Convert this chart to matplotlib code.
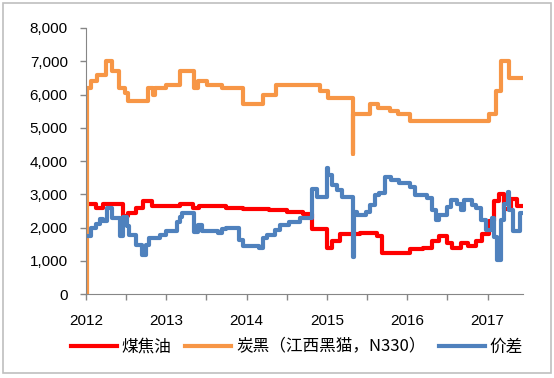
import matplotlib
matplotlib.use("Agg")
import matplotlib.pyplot as plt
from matplotlib.ticker import FuncFormatter, MultipleLocator
from matplotlib.patches import Rectangle

plt.rcParams['font.family'] = ['Noto Sans CJK SC', 'DejaVu Sans']

# 炭黑 (江西黑猫 N330), step changes: decimal year, value
cb_x = [2012.00, 2012.01, 2012.07, 2012.14, 2012.25, 2012.33, 2012.41, 2012.49, 2012.52,
        2012.77, 2012.84, 2012.86, 2013.00, 2013.17, 2013.35, 2013.40, 2013.51, 2013.70,
        2013.95, 2014.20, 2014.37, 2014.91, 2015.01, 2015.32, 2015.33, 2015.53, 2015.63,
        2015.78, 2015.88, 2016.03, 2017.02, 2017.11, 2017.17, 2017.27, 2017.44]
cb_y = [0, 6200, 6400, 6600, 7000, 6700, 6200, 6050, 5800,
        6200, 6000, 6200, 6300, 6700, 6200, 6400, 6300, 6200,
        5700, 6000, 6300, 6100, 5900, 4200, 5400, 5700, 5600,
        5500, 5400, 5200, 5400, 6100, 7000, 6500, 6500]

# 煤焦油
tar_x = [2012.02, 2012.13, 2012.21, 2012.46, 2012.52, 2012.63, 2012.71, 2012.82, 2013.17,
         2013.33, 2013.41, 2013.75, 2013.95, 2014.28, 2014.50, 2014.70, 2014.81, 2014.82,
         2015.00, 2015.06, 2015.16, 2015.41, 2015.62, 2015.69, 2016.03, 2016.19, 2016.31,
         2016.40, 2016.49, 2016.56, 2016.67, 2016.75, 2016.86, 2016.93, 2017.02, 2017.08,
         2017.14, 2017.21, 2017.29, 2017.36, 2017.44]
tar_y = [2700, 2600, 2700, 2350, 2450, 2600, 2800, 2650, 2700,
         2600, 2650, 2600, 2550, 2530, 2480, 2400, 2000, 1950,
         1400, 1600, 1800, 1850, 1750, 1250, 1350, 1400, 1600,
         1750, 1550, 1400, 1550, 1450, 1600, 1800, 2200, 2800,
         3000, 2550, 2850, 2650, 2650]

# 价差
spr_x = [2012.00, 2012.07, 2012.13, 2012.17, 2012.21, 2012.26, 2012.33, 2012.42, 2012.46,
         2012.51, 2012.54, 2012.63, 2012.70, 2012.75, 2012.79, 2012.92, 2013.00, 2013.13,
         2013.17, 2013.20, 2013.35, 2013.39, 2013.45, 2013.64, 2013.69, 2013.75, 2013.91,
         2013.95, 2014.16, 2014.20, 2014.26, 2014.35, 2014.41, 2014.53, 2014.66, 2014.81,
         2014.88, 2015.00, 2015.01, 2015.06, 2015.12, 2015.19, 2015.32, 2015.34, 2015.38,
         2015.49, 2015.53, 2015.60, 2015.65, 2015.72, 2015.80, 2015.90, 2016.03, 2016.09,
         2016.24, 2016.31, 2016.36, 2016.40, 2016.49, 2016.55, 2016.62, 2016.67, 2016.71,
         2016.80, 2016.86, 2016.92, 2016.98, 2017.05, 2017.08, 2017.12, 2017.17, 2017.21,
         2017.25, 2017.27, 2017.31, 2017.40, 2017.44]
spr_y = [1750, 2000, 2100, 2250, 2200, 2600, 2280, 1750, 2320,
         2050, 1770, 1470, 1170, 1470, 1680, 1770, 1900, 2170,
         2320, 2430, 1870, 2070, 1900, 1850, 1950, 2000, 1620,
         1450, 1400, 1680, 1770, 1920, 2070, 2170, 2280, 3150,
         2920, 3780, 3580, 3280, 3130, 2920, 1100, 2470, 2370,
         2470, 2680, 2980, 3030, 3520, 3430, 3340, 3220, 2980,
         2880, 2530, 2220, 2370, 2620, 2830, 2700, 2530, 2830,
         2680, 2580, 2220, 1920, 2280, 1720, 1020, 2220, 2700,
         3070, 2530, 1900, 2450, 2450]

fig = plt.figure(figsize=(5.54, 3.78), dpi=100)
ax = fig.add_axes([0.155, 0.222, 0.789, 0.704])

ax.plot(tar_x, tar_y, drawstyle='steps-post', color='#FF0000', lw=3, label='煤焦油')
ax.plot(cb_x, cb_y, drawstyle='steps-post', color='#F79646', lw=3, label='炭黑（江西黑猫，N330）')
ax.plot(spr_x, spr_y, drawstyle='steps-post', color='#4F81BD', lw=3, label='价差')

ax.set_xlim(2012, 2017.44)
ax.set_ylim(0, 8000)
ax.yaxis.set_major_locator(MultipleLocator(1000))
ax.yaxis.set_major_formatter(FuncFormatter(lambda v, p: f'{int(v):,}'))
ax.xaxis.set_major_locator(MultipleLocator(1))
ax.xaxis.set_minor_locator(MultipleLocator(0.5))
ax.xaxis.set_major_formatter(FuncFormatter(lambda v, p: f'{int(round(v))}'))

for s in ['top', 'right']:
    ax.spines[s].set_visible(False)
for s in ['left', 'bottom']:
    ax.spines[s].set_color('#868686')
ax.tick_params(axis='both', which='both', color='#868686', length=4, width=1)
ax.tick_params(axis='y', pad=9, labelsize=11)
ax.tick_params(axis='x', pad=10, labelsize=11)
for lab in ax.get_xticklabels() + ax.get_yticklabels():
    lab.set_family(['Liberation Sans', 'DejaVu Sans'])

fig.legend(loc='center', bbox_to_anchor=(0.536, 0.082), ncol=3, frameon=False,
           fontsize=12, handlelength=2.75, handletextpad=0.3, columnspacing=0.8)

fig.patches.append(Rectangle((0.005, 0.013), 0.99, 0.978, transform=fig.transFigure,
                             fill=False, edgecolor='#BFBFBF', lw=1.2))

fig.savefig('out.png', dpi=100)
